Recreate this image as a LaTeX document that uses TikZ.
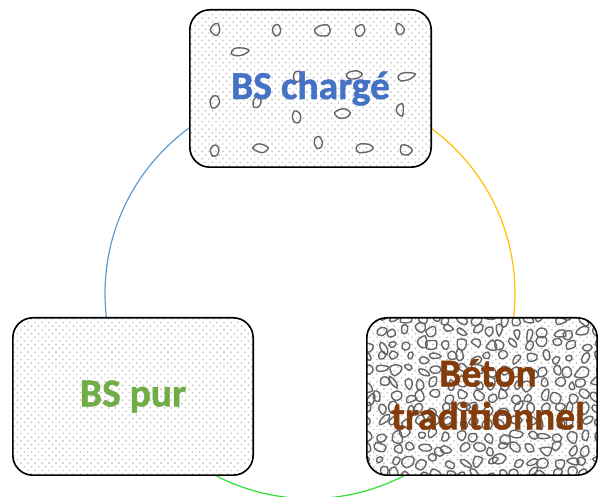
\documentclass[tikz,border=0pt]{standalone}
\usepackage{fontspec}
\setmainfont{Carlito}[BoldFeatures={FakeBold=1.2}]

\definecolor{bsblue}{HTML}{4472C4}
\definecolor{bsgreen}{HTML}{70AD47}
\definecolor{betonbrown}{HTML}{843C0C}
\definecolor{arcblue}{HTML}{5B9BD5}
\definecolor{arcyellow}{HTML}{FFC000}
\definecolor{arcgreen}{HTML}{33DD33}
\definecolor{dotgray}{HTML}{C4C4C4}
\definecolor{pebblegray}{HTML}{666666}

% staggered dot screen, drawn around the local origin
\newcommand\dotscreen{%
  \foreach \i in {-18,...,18}{%
    \foreach \j in {-22,...,22}{%
      \pgfmathsetmacro\dx{\i*7+3.5*mod(abs(\j),2)}%
      \pgfmathsetmacro\dy{\j*3.7}%
      \fill[dotgray] (\dx,\dy) circle (0.95);}}}

% one irregular pebble outline: centre x, centre y, x radius, y radius, turn
\newcommand\pebbleat[5]{%
  \pgfmathsetmacro\pa{(0.65+0.45*rnd)}%
  \pgfmathsetmacro\pb{(0.65+0.45*rnd)}%
  \pgfmathsetmacro\pc{(0.65+0.45*rnd)}%
  \pgfmathsetmacro\pd{(0.65+0.45*rnd)}%
  \pgfmathsetmacro\pe{(0.65+0.45*rnd)}%
  \pgfmathsetmacro\pf{(0.65+0.45*rnd)}%
  \begin{scope}[shift={(#1,#2)}, rotate=#5]
  \draw[pebblegray, line width=1.4pt]
    plot[smooth cycle, tension=0.55] coordinates
      {({#3*\pa},0) ({0.5*#3*\pb},{0.866*#4*\pb}) ({-0.5*#3*\pc},{0.866*#4*\pc})
       ({-#3*\pd},0) ({-0.5*#3*\pe},{-0.866*#4*\pe}) ({0.5*#3*\pf},{-0.866*#4*\pf})};
  \end{scope}}

\tikzset{
  slab/.style={fill=white, minimum height=157pt, inner sep=0pt},
  slabedge/.style={draw=black, line width=1.6pt, rounded corners=20pt},
  label/.style={font=\bfseries\fontsize{39.5}{43}\selectfont, align=center, inner sep=0pt},
  arcline/.style={line width=1.2pt},
}

\begin{document}
\begin{tikzpicture}[x=1pt,y=1pt]
\useasboundingbox (0,0) rectangle (598,497);

% ring linking the three materials
\coordinate (c) at (310,203.4);
\draw[arcline, arcblue]   ([shift={(90:205)}]c)  arc[start angle=90,  end angle=215, radius=205];
\draw[arcline, arcyellow] ([shift={(90:205)}]c)  arc[start angle=90,  end angle=-35, radius=205];
\draw[arcline, arcgreen]  ([shift={(215:205)}]c) arc[start angle=215, end angle=325, radius=205];

% the three slabs
\node[slab, minimum width=241pt] (charge) at (310.5,408.5) {};
\node[slab, minimum width=240pt] (pur)    at (133,100.5)   {};
\node[slab, minimum width=230pt] (beton)  at (482,100.5)   {};

% loaded self-compacting concrete: dots and scattered gravel
\begin{scope}
  \clip[rounded corners=20pt] (charge.south west) rectangle (charge.north east);
  \begin{scope}[shift={(charge.center)}]
    \dotscreen
    \pgfmathsetseed{11}
    \foreach \px/\py/\qx/\qy/\qr in {-95.5/58.5/5/7/0, -33.5/58.5/5/7/10, 12.5/58.5/9/6/0, 49.5/58.5/5/7/-10, 89.5/58.5/5/7/0,
        -70.5/36.5/10/5/10, -13.5/11.5/5/7/0, 42.5/13.5/10/5/5, 94.5/12.5/10/5/10,
        -95.5/-13.5/5/7/0, -53.5/-13.5/5/7/-10, -13.5/-28.5/5/7/0, 32.5/-24.5/8/6/0, 89.5/-21.5/5/7/0,
        -95.5/-61.5/5/7/0, -50.5/-59.5/8/6/0, 7.5/-54.5/5/7/15, 54.5/-59.5/11/5/0, 94.5/-61.5/7/6/0}
      {\pebbleat{\px}{\py}{\qx}{\qy}{\qr}}
  \end{scope}
\end{scope}
\draw[slabedge] (charge.south west) rectangle (charge.north east);

% plain self-compacting concrete: dots only
\begin{scope}
  \clip[rounded corners=20pt] (pur.south west) rectangle (pur.north east);
  \begin{scope}[shift={(pur.center)}]
    \dotscreen
  \end{scope}
\end{scope}
\draw[slabedge] (pur.south west) rectangle (pur.north east);

% traditional concrete: densely packed aggregate
\begin{scope}
  \clip[rounded corners=20pt] (beton.south west) rectangle (beton.north east);
  \begin{scope}[shift={(beton.center)}]
    \dotscreen
    \pgfmathsetseed{7}
    \foreach \i in {0,...,17}{%
      \foreach \j in {0,...,12}{%
        \pgfmathsetmacro\gx{-115+\i*13.6+4*rand}%
        \pgfmathsetmacro\gy{-78+\j*13+3.5*rand}%
        \pgfmathsetmacro\hx{4+3.5*rnd}%
        \pgfmathsetmacro\hy{3+3*rnd}%
        \pgfmathsetmacro\hr{180*rnd}%
        \pebbleat{\gx}{\gy}{\hx}{\hy}{\hr}}}
  \end{scope}
\end{scope}
\draw[slabedge] (beton.south west) rectangle (beton.north east);

% labels
\node[label, text=bsblue]     (chargetxt) at (charge.center)                  {BS chargé};
\node[label, text=bsgreen]    (purtxt)    at (pur.center)                     {BS pur};
\node[label, text=betonbrown] (betontxt)  at ([shift={(6,2)}]beton.center)    {Béton\\traditionnel};
\end{tikzpicture}
\end{document}
